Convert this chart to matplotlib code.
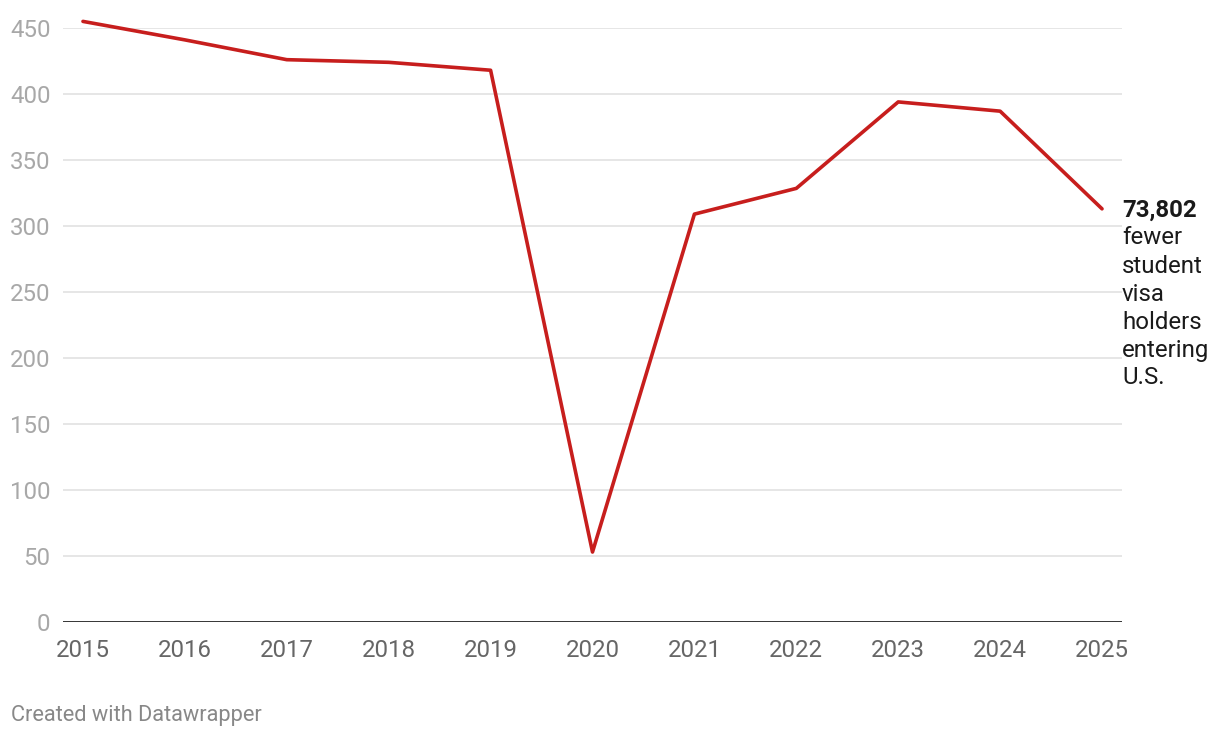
import matplotlib
matplotlib.use("Agg")
import matplotlib.pyplot as plt

years = [2015, 2016, 2017, 2018, 2019, 2020, 2021, 2022, 2023, 2024, 2025]
values = [455, 441, 426, 424, 418, 53, 309, 328.5, 394, 387, 313]
yticks = [0, 50, 100, 150, 200, 250, 300, 350, 400, 450]

plt.rcParams['font.family'] = ['Roboto', 'DejaVu Sans']

W, H = 1220, 738
fig = plt.figure(figsize=(W / 100, H / 100), dpi=100)
ax = fig.add_axes([63 / W, (H - 622) / H, (1122 - 63) / W, (622 - 28) / H])

for t in yticks[1:]:
    ax.axhline(t, color='#e2e2e2', lw=1.2, zorder=0)
ax.axhline(0, color='#222222', lw=2, zorder=1)

ax.plot(years, values, color='#c71e1d', lw=2.6, solid_joinstyle='round',
        solid_capstyle='round', clip_on=False, zorder=3)

ax.set_xlim(2014.804, 2025.196)
ax.set_ylim(0, 450)
ax.set_xticks(years)
ax.set_xticklabels([str(y) for y in years])
ax.set_yticks(yticks)
ax.tick_params(axis='x', length=0, pad=12, labelsize=17.3, labelcolor='#666666')
ax.tick_params(axis='y', length=0, pad=9, labelsize=17.3, labelcolor='#a8a8a8')
for s in ax.spines.values():
    s.set_visible(False)

fig.text(1122 / W, 1 - 210 / H, '73,802', fontsize=17.3, fontweight='bold',
         color='#1a1a1a', va='center', ha='left')
lines = ['fewer', 'student', 'visa', 'holders', 'entering', 'U.S.']
for i, l in enumerate(lines):
    fig.text(1122 / W, 1 - (238 + 28 * i) / H, l, fontsize=17.3,
             color='#1a1a1a', va='center', ha='left')

fig.text(11 / W, 1 - 716 / H, 'Created with Datawrapper', fontsize=15.7,
         color='#888888', va='center', ha='left')

fig.savefig('out.png', dpi=100, facecolor='white')
